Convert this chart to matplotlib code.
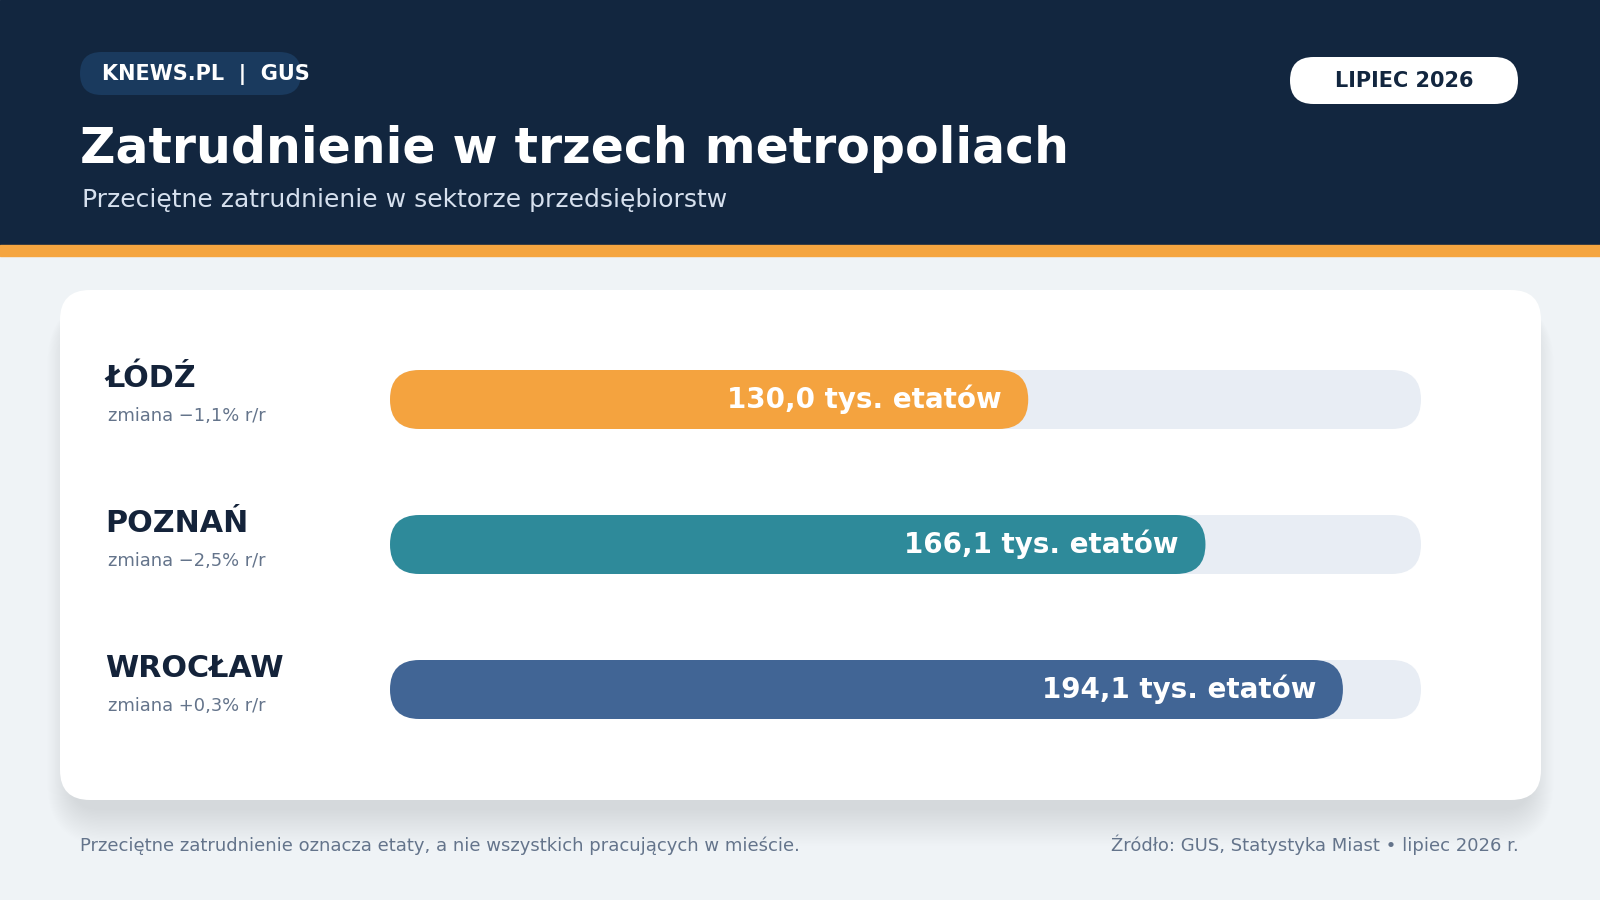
import matplotlib
matplotlib.use("Agg")
import matplotlib.pyplot as plt
from matplotlib.patches import FancyBboxPatch, Rectangle

# ---- data ----
cities = ["ŁÓDŹ", "POZNAŃ", "WROCŁAW"]
values = [130.0, 166.1, 194.1]          # tys. etatów
changes = [-1.1, -2.5, 0.3]              # % r/r
x_max = 210

title = "Zatrudnienie w trzech metropoliach"
subtitle = "Przeciętne zatrudnienie w sektorze przedsiębiorstw"
brand = "KNEWS.PL  |  GUS"
date_label = "LIPIEC 2026"
footer_left = "Przeciętne zatrudnienie oznacza etaty, a nie wszystkich pracujących w mieście."
footer_right = "Źródło: GUS, Statystyka Miast • lipiec 2026 r."

bar_colors = ["#f4a33f", "#2e8a9a", "#416595"]
track_color = "#e8edf4"
navy = "#12263f"
bg_color = "#eff3f6"

def fmt_pl(v, d=1):
    return f"{v:.{d}f}".replace(".", ",")

def fmt_change(c):
    sign = "+" if c >= 0 else "\u2212"
    return f"zmiana {sign}{fmt_pl(abs(c))}% r/r"

W, H = 1600, 900
fig = plt.figure(figsize=(16, 9), dpi=100)
fig.patch.set_facecolor(bg_color)

bg = fig.add_axes([0, 0, 1, 1])
bg.set_xlim(0, W)
bg.set_ylim(H, 0)
bg.axis("off")

# header
bg.add_patch(Rectangle((0, 0), W, 245, color=navy, zorder=1))
bg.add_patch(Rectangle((0, 245), W, 11, color="#f5a540", zorder=1))

# brand pill
bg.add_patch(FancyBboxPatch((80, 52), 221, 43, boxstyle="round,pad=0,rounding_size=21.5",
                            fc="#1a3a5e", ec="none", zorder=2))
bg.text(102, 74.5, brand, color="white", fontsize=15, fontweight="bold",
        va="center", ha="left", zorder=3)

# date pill
bg.add_patch(FancyBboxPatch((1290, 57), 228, 47, boxstyle="round,pad=0,rounding_size=23.5",
                            fc="white", ec="none", zorder=2))
bg.text(1404, 81, date_label, color=navy, fontsize=15, fontweight="bold",
        va="center", ha="center", zorder=3)

bg.text(80, 163, title, color="white", fontsize=35.2, fontweight="bold",
        va="baseline", ha="left", zorder=3)
bg.text(82, 207, subtitle, color="#d6e0ee", fontsize=18,
        va="baseline", ha="left", zorder=3)

# card with soft shadow (mostly below)
cx0, cy0, cx1, cy1 = 60, 290, 1541, 800
n = 26
for k in range(n):
    g = k * 1.3
    bg.add_patch(FancyBboxPatch((cx0 + 10 - g * 0.7, cy0 + 20 - g * 0.3),
                                (cx1 - cx0) - 20 + 1.4 * g,
                                (cy1 - cy0) - 10 + g * 1.4,
                                boxstyle=f"round,pad=0,rounding_size={30 + g}",
                                fc="#33404f", ec="none", alpha=0.0037, zorder=2))
bg.add_patch(FancyBboxPatch((cx0, cy0), cx1 - cx0, cy1 - cy0,
                            boxstyle="round,pad=0,rounding_size=30",
                            fc="white", ec="none", zorder=3))

# footer
bg.text(80, 851, footer_left, color="#64748b", fontsize=13, va="baseline", ha="left")
bg.text(1519, 851, footer_right, color="#64748b", fontsize=13, va="baseline", ha="right")

# ---- bar axes ----
row_px = 145
centers_px = 544.5
ax_x0, ax_x1 = 390, 1421
ax_y_top = centers_px - 1.5 * row_px
ax_h = 3 * row_px
ax = fig.add_axes([ax_x0 / W, 1 - (ax_y_top + ax_h) / H, (ax_x1 - ax_x0) / W, ax_h / H])
ax.set_xlim(0, x_max)
ax.set_ylim(len(cities) - 0.5, -0.5)
ax.axis("off")
ax.patch.set_alpha(0)
ax.set_zorder(5)

px_per_x = (ax_x1 - ax_x0) / x_max
px_per_y = row_px
aspect = px_per_x / px_per_y
bar_h_px = 59
bar_h = bar_h_px / px_per_y
r = (bar_h_px / 2) / px_per_x

for i, (city, v, c, col) in enumerate(zip(cities, values, changes, bar_colors)):
    ax.add_patch(FancyBboxPatch((0, i - bar_h / 2), x_max, bar_h,
                                boxstyle=f"round,pad=0,rounding_size={r}",
                                mutation_aspect=aspect, fc=track_color, ec="none", zorder=1))
    ax.add_patch(FancyBboxPatch((0, i - bar_h / 2), v, bar_h,
                                boxstyle=f"round,pad=0,rounding_size={r}",
                                mutation_aspect=aspect, fc=col, ec="none", zorder=2))
    ax.annotate(f"{fmt_pl(v)} tys. etatów", xy=(v, i), xycoords="data",
                xytext=(-27 * 0.72, -8.8 * 0.72), textcoords="offset points",
                ha="right", va="baseline", color="white", fontsize=20,
                fontweight="bold", zorder=3)
    ax.annotate(city, xy=(105, i), xycoords=(bg.transData, ax.transData),
                xytext=(0, 12.2 * 0.72), textcoords="offset points",
                ha="left", va="baseline", color="#14233a", fontsize=21.7,
                fontweight="bold", annotation_clip=False)
    ax.annotate(fmt_change(c), xy=(107.5, i), xycoords=(bg.transData, ax.transData),
                xytext=(0, -21.2 * 0.72), textcoords="offset points",
                ha="left", va="baseline", color="#64748b", fontsize=12.9,
                annotation_clip=False)

fig.savefig("out.png", dpi=100, facecolor=fig.get_facecolor())
